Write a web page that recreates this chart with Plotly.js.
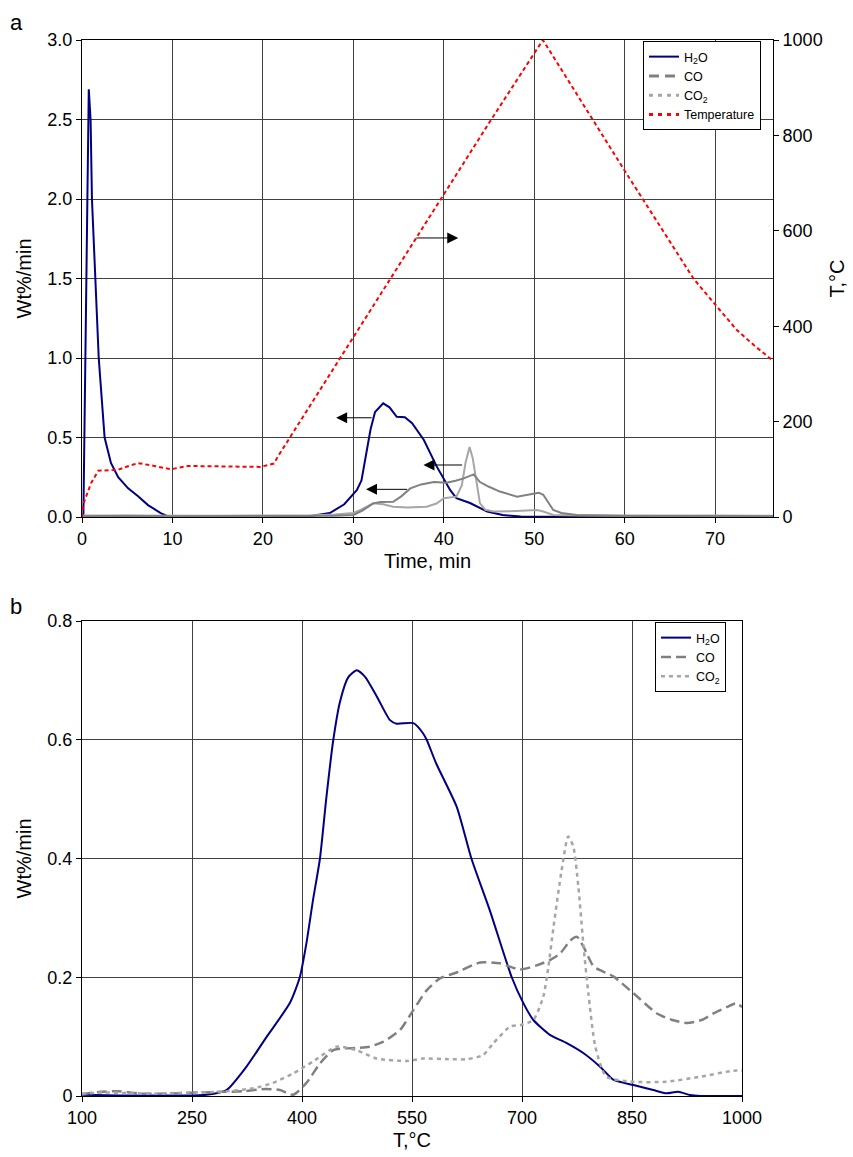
<!DOCTYPE html>
<html>
<head>
<meta charset="utf-8">
<script src="https://cdn.plot.ly/plotly-3.0.1.min.js"></script>
<style>html,body{margin:0;padding:0;background:#fff;}#chart{width:853px;height:1157px;}</style>
</head>
<body>
<div id="chart"></div>
<script>
// ---------- Panel a: vs time ----------
const timeH2O = [0, 0.15, 0.75, 0.95, 1.1, 1.5, 1.85, 2.5, 3.2, 4.0, 5.1, 6.2, 7.3, 8.7, 9.5, 15, 20, 25, 27.4, 29, 30.4, 30.9, 31.9, 32.4, 33.3, 34.0, 34.8, 35.7, 36.5, 37.8, 39.2, 40.7, 41.4, 42.9, 44.8, 46.5, 48.5, 55, 65, 76.4];
const h2oTime = [0, 0, 2.69, 2.5, 2.0, 1.5, 1.0, 0.5, 0.34, 0.25, 0.18, 0.13, 0.075, 0.025, 0.003, 0, 0, 0.003, 0.025, 0.08, 0.17, 0.23, 0.55, 0.66, 0.715, 0.69, 0.63, 0.627, 0.59, 0.484, 0.32, 0.17, 0.118, 0.088, 0.034, 0.012, 0.003, 0, 0, 0];

const timeCO = [0, 5, 10, 15, 20, 25, 28, 30, 31, 32.2, 33, 34.4, 35.3, 36.3, 37.5, 38.9, 40.3, 41.3, 42.2, 43.3, 44.0, 45, 46.2, 48.1, 49.5, 50.5, 51, 52.1, 53, 54.7, 60, 65, 70, 76.4];
const coTime = [0.005, 0.008, 0.004, 0.006, 0.005, 0.006, 0.008, 0.013, 0.04, 0.086, 0.095, 0.096, 0.13, 0.18, 0.205, 0.22, 0.216, 0.228, 0.243, 0.268, 0.22, 0.19, 0.16, 0.128, 0.14, 0.153, 0.14, 0.044, 0.025, 0.013, 0.008, 0.006, 0.008, 0.005];

const timeCO2 = [0, 5, 10, 15, 20, 25, 28, 30, 30.8, 32.2, 33.3, 34.4, 36, 38.1, 39.2, 40, 41.4, 42.0, 42.4, 42.85, 43.2, 43.5, 44, 44.6, 45.5, 48, 50.3, 51, 52.1, 55, 60, 70, 76.4];
const co2Time = [0.01, 0.008, 0.01, 0.008, 0.01, 0.01, 0.015, 0.025, 0.044, 0.086, 0.08, 0.065, 0.06, 0.065, 0.085, 0.118, 0.128, 0.2, 0.34, 0.44, 0.37, 0.27, 0.086, 0.045, 0.034, 0.038, 0.044, 0.035, 0.013, 0.01, 0.008, 0.01, 0.008];

const timeTemp = [0, 0.1, 1.0, 1.8, 3.0, 4.0, 5.0, 6.2, 8.0, 9.8, 11.7, 14, 17, 19.7, 21.2, 21.9, 25, 30, 35, 40, 45, 50.96, 55, 60.2, 64, 67.6, 70.2, 72.4, 74.3, 76.3];
const tempTime = [0, 25, 71, 97, 98, 99, 106, 113, 107, 100, 107, 106, 105, 105, 112, 134, 227, 377, 526, 677, 826, 1000, 877, 720, 607, 500, 441, 392, 360, 329];

// ---------- Panel b: vs temperature ----------
const tempH2O = [100, 150, 200, 250, 270, 297, 324.6, 352, 383.6, 397, 406, 415, 424.5, 433, 442.7, 452, 463, 474.6, 486, 502, 520, 529, 552, 565, 570, 583, 611, 631, 656, 686, 702, 715.5, 738, 761, 784, 806.8, 825, 852, 879, 897, 913, 929, 943, 970, 1000];
const h2oTemp = [0.002, 0.001, 0.001, 0.001, 0.002, 0.01, 0.05, 0.1, 0.157, 0.2, 0.257, 0.33, 0.4, 0.5, 0.6, 0.665, 0.705, 0.717, 0.706, 0.673, 0.633, 0.627, 0.628, 0.611, 0.6, 0.56, 0.487, 0.4, 0.313, 0.2, 0.156, 0.128, 0.103, 0.089, 0.072, 0.049, 0.027, 0.0185, 0.01, 0.0045, 0.0073, 0.0017, 0, 0, 0];

const tempCO = [100, 125, 150, 180, 220, 260, 290, 320, 350, 370, 388, 406, 424.6, 442, 456, 475, 492, 511, 533.6, 552, 570, 588, 611, 643, 670, 697, 720, 738, 752, 766, 775, 784, 797.7, 810, 825, 852, 884, 905, 925, 945, 961, 980, 991, 1000];
const coTemp = [0.003, 0.007, 0.008, 0.004, 0.004, 0.006, 0.007, 0.008, 0.012, 0.01, 0.002, 0.022, 0.055, 0.077, 0.08, 0.081, 0.083, 0.0915, 0.111, 0.145, 0.178, 0.198, 0.208, 0.225, 0.2235, 0.213, 0.22, 0.229, 0.24, 0.262, 0.268, 0.251, 0.218, 0.21, 0.201, 0.173, 0.139, 0.128, 0.123, 0.128, 0.139, 0.15, 0.156, 0.15];

const tempCO2 = [100, 130, 160, 200, 250, 288, 334, 360, 388, 415, 447, 474.6, 502, 543, 565, 600, 624.6, 647, 661, 684, 700, 715.5, 729, 736, 743, 754, 763, 770, 776.8, 784, 790.5, 800, 815, 852, 897, 943, 988, 1000];
const co2Temp = [0.004, 0.006, 0.005, 0.004, 0.006, 0.007, 0.013, 0.022, 0.038, 0.058, 0.083, 0.077, 0.063, 0.059, 0.063, 0.062, 0.062, 0.069, 0.089, 0.117, 0.12, 0.128, 0.167, 0.218, 0.285, 0.38, 0.437, 0.42, 0.353, 0.251, 0.173, 0.083, 0.0325, 0.024, 0.024, 0.0325, 0.0426, 0.0426];

const seriesNames = ['H<sub>2</sub>O', 'CO', 'CO<sub>2</sub>', 'Temperature'];
const topXTicks = [0, 10, 20, 30, 40, 50, 60, 70];
const bottomXTicks = [100, 250, 400, 550, 700, 850, 1000];

const NAVY = '#000080', GRAY = '#808080', LGRAY = '#a6a6a6', RED = '#ff0000';
const FONT = 'Liberation Sans, Arial, sans-serif';

const traces = [
  // panel a data
  {x: timeH2O, y: h2oTime, xaxis: 'x', yaxis: 'y', mode: 'lines', line: {color: NAVY, width: 2}, showlegend: false, hoverinfo: 'skip'},
  {x: timeCO2, y: co2Time, xaxis: 'x', yaxis: 'y', mode: 'lines', line: {color: LGRAY, width: 2}, showlegend: false, hoverinfo: 'skip'},
  {x: timeCO, y: coTime, xaxis: 'x', yaxis: 'y', mode: 'lines', line: {color: GRAY, width: 2}, showlegend: false, hoverinfo: 'skip'},
  {x: timeTemp, y: tempTime, xaxis: 'x', yaxis: 'y2', mode: 'lines', line: {color: RED, width: 2, dash: '4px,3px'}, showlegend: false, hoverinfo: 'skip'},
  // panel a legend entries
  {x: [null], y: [null], xaxis: 'x', yaxis: 'y', mode: 'lines', name: seriesNames[0], line: {color: NAVY, width: 2}, legend: 'legend'},
  {x: [null], y: [null], xaxis: 'x', yaxis: 'y', mode: 'lines', name: seriesNames[1], line: {color: GRAY, width: 3, dash: '10px,6px'}, legend: 'legend'},
  {x: [null], y: [null], xaxis: 'x', yaxis: 'y', mode: 'lines', name: seriesNames[2], line: {color: LGRAY, width: 3, dash: '4px,5px'}, legend: 'legend'},
  {x: [null], y: [null], xaxis: 'x', yaxis: 'y', mode: 'lines', name: seriesNames[3], line: {color: RED, width: 3, dash: '4px,5px'}, legend: 'legend'},
  // panel b
  {x: tempH2O, y: h2oTemp, xaxis: 'x3', yaxis: 'y3', mode: 'lines', name: seriesNames[0], line: {color: NAVY, width: 2, shape: 'spline', smoothing: 0.6}, legend: 'legend2', hoverinfo: 'skip'},
  {x: tempCO, y: coTemp, xaxis: 'x3', yaxis: 'y3', mode: 'lines', name: seriesNames[1], line: {color: GRAY, width: 2.5, dash: '10px,5px', shape: 'spline', smoothing: 0.6}, legend: 'legend2', hoverinfo: 'skip'},
  {x: tempCO2, y: co2Temp, xaxis: 'x3', yaxis: 'y3', mode: 'lines', name: seriesNames[2], line: {color: LGRAY, width: 2.5, dash: '4px,4px', shape: 'spline', smoothing: 0.6}, legend: 'legend2', hoverinfo: 'skip'}
];

const axisCommon = {
  showline: true, linecolor: '#000', linewidth: 1,
  ticks: 'outside', ticklen: 5, tickcolor: '#000',
  showgrid: true, gridcolor: '#404040', gridwidth: 1,
  zeroline: false,
  tickfont: {family: FONT, size: 18, color: '#000'}
};

const layout = {
  width: 853, height: 1157,
  margin: {l: 0, r: 0, t: 0, b: 0},
  paper_bgcolor: '#fff', plot_bgcolor: '#fff',
  font: {family: FONT, color: '#000'},
  xaxis: Object.assign({}, axisCommon, {
    domain: [82/853, 773/853], anchor: 'y', range: [0, 76.4],
    tickvals: topXTicks, mirror: true,
    title: {text: 'Time, min', font: {family: FONT, size: 20}, standoff: 6}
  }),
  yaxis: Object.assign({}, axisCommon, {
    domain: [1 - 517/1157, 1 - 40/1157], anchor: 'x', range: [0, 3.0],
    dtick: 0.5, tickformat: '.1f',
    title: {text: 'Wt%/min', font: {family: FONT, size: 20}, standoff: 10}
  }),
  yaxis2: Object.assign({}, axisCommon, {
    overlaying: 'y', side: 'right', anchor: 'x', range: [0, 1000], dtick: 200,
    showgrid: false,
    title: {text: 'T,°C', font: {family: FONT, size: 20}, standoff: 8}
  }),
  xaxis3: Object.assign({}, axisCommon, {
    domain: [82/853, 742/853], anchor: 'y3', range: [100, 1000],
    tickvals: bottomXTicks, mirror: true,
    title: {text: 'T,°C', font: {family: FONT, size: 20}, standoff: 6}
  }),
  yaxis3: Object.assign({}, axisCommon, {
    domain: [1 - 1096/1157, 1 - 621/1157], anchor: 'x3', range: [0, 0.8],
    dtick: 0.2, mirror: true,
    title: {text: 'Wt%/min', font: {family: FONT, size: 20}, standoff: 10}
  }),
  legend: {
    x: 643/853, y: 1 - 41/1157, xanchor: 'left', yanchor: 'top',
    bgcolor: '#fff', bordercolor: '#000', borderwidth: 1,
    font: {family: FONT, size: 12.5, color: '#000'}, tracegroupgap: 0, itemwidth: 30
  },
  legend2: {
    x: 655/853, y: 1 - 622/1157, xanchor: 'left', yanchor: 'top',
    bgcolor: '#fff', bordercolor: '#000', borderwidth: 1,
    font: {family: FONT, size: 12.5, color: '#000'}, tracegroupgap: 0, itemwidth: 30
  },
  annotations: [
    {xref: 'paper', yref: 'paper', x: 8/853, y: 1 - 8/1157, xanchor: 'left', yanchor: 'top', text: 'a', showarrow: false, font: {family: FONT, size: 22}},
    {xref: 'paper', yref: 'paper', x: 8/853, y: 1 - 592/1157, xanchor: 'left', yanchor: 'top', text: 'b', showarrow: false, font: {family: FONT, size: 22}},
    // arrows on panel a
    {xref: 'x', yref: 'y', axref: 'x', ayref: 'y', x: 41.6, y: 1.755, ax: 36.8, ay: 1.755, text: '', showarrow: true, arrowhead: 2, arrowsize: 2.2, arrowwidth: 1, arrowcolor: '#000', standoff: 0, startstandoff: 0},
    {xref: 'x', yref: 'y', axref: 'x', ayref: 'y', x: 28.1, y: 0.624, ax: 32.2, ay: 0.624, text: '', showarrow: true, arrowhead: 2, arrowsize: 2.2, arrowwidth: 1, arrowcolor: '#000', standoff: 0, startstandoff: 0},
    {xref: 'x', yref: 'y', axref: 'x', ayref: 'y', x: 37.75, y: 0.327, ax: 42.2, ay: 0.327, text: '', showarrow: true, arrowhead: 2, arrowsize: 2.2, arrowwidth: 1, arrowcolor: '#000', standoff: 0, startstandoff: 0},
    {xref: 'x', yref: 'y', axref: 'x', ayref: 'y', x: 31.4, y: 0.174, ax: 36.1, ay: 0.174, text: '', showarrow: true, arrowhead: 2, arrowsize: 2.2, arrowwidth: 1, arrowcolor: '#000', standoff: 0, startstandoff: 0}
  ]
};

Plotly.newPlot('chart', traces, layout, {displayModeBar: false, staticPlot: true});
</script>
</body>
</html>
